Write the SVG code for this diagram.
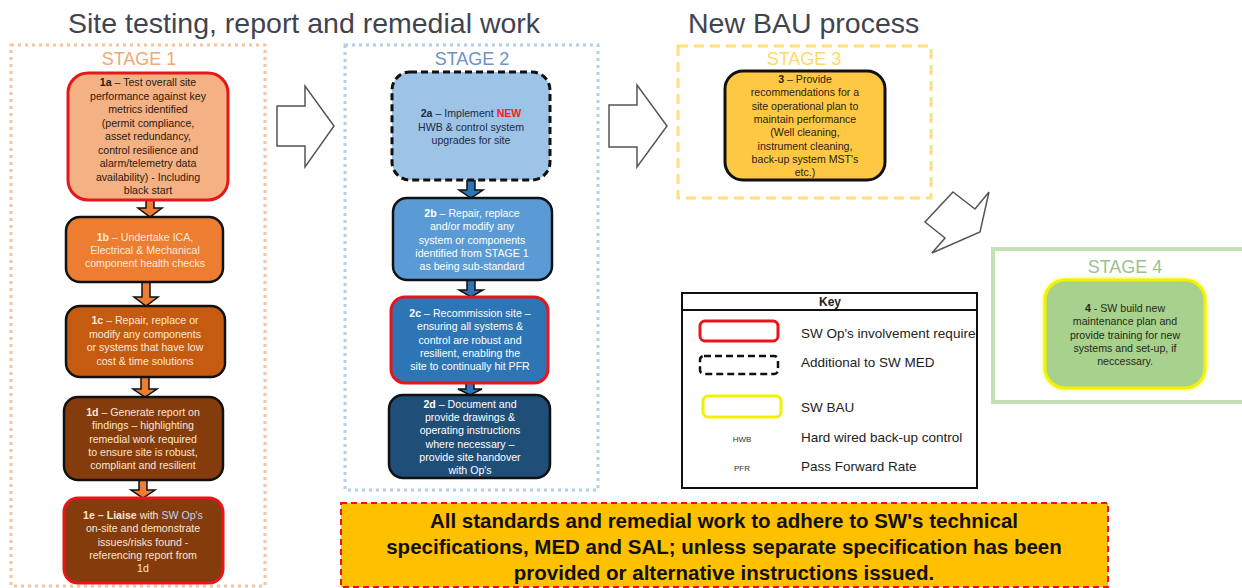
<svg xmlns="http://www.w3.org/2000/svg" width="1242" height="588" viewBox="0 0 1242 588">
<defs>
<style>
.title{font-family:"Liberation Sans",Arial,sans-serif;font-size:28.5px;fill:#3f4450}
.stg{font-family:"Liberation Sans",Arial,sans-serif;font-size:18px;text-anchor:middle}
.t{font-family:"Liberation Sans",Arial,sans-serif;font-size:10.6px;text-anchor:middle}
.b{font-weight:bold}
.key{font-family:"Liberation Sans",Arial,sans-serif;font-size:13.5px;fill:#222}
.ksm{font-family:"Liberation Sans",Arial,sans-serif;font-size:8px;fill:#333;text-anchor:middle}
.big{fill:#fff;stroke:#555;stroke-width:1.5}
.oa{fill:#ed7d31;stroke:#111;stroke-width:1.5}
.ba{fill:#2e75b6;stroke:#111;stroke-width:1.5}
.ban{font-family:"Liberation Sans",Arial,sans-serif;font-size:20.5px;font-weight:bold;text-anchor:middle;fill:#111}
</style>
<clipPath id="keyclip"><rect x="682" y="293" width="294" height="195"/></clipPath>
</defs>
<rect width="1242" height="588" fill="#fff"/>

<text class="title" x="68" y="33">Site testing, report and remedial work</text>
<text class="title" x="688" y="33">New BAU process</text>

<!-- stage containers -->
<g id="stage1">
<rect x="11" y="45" width="254" height="541" fill="none" stroke="#f4c4a0" stroke-width="3" stroke-dasharray="3 4"/>
<text class="stg" x="139" y="65" fill="#efa878">STAGE 1</text>
</g>
<g id="stage2">
<rect x="345" y="45" width="253" height="445" fill="none" stroke="#b4cfe8" stroke-width="3" stroke-dasharray="3 4"/>
<text class="stg" x="472" y="65" fill="#6c93c4">STAGE 2</text>
</g>
<g id="stage3">
<rect x="678" y="46" width="253" height="152" fill="none" stroke="#ffdf80" stroke-width="3" stroke-dasharray="10 6"/>
<text class="stg" x="804" y="65" fill="#ffd966">STAGE 3</text>
</g>
<g id="stage4">
<rect x="993" y="249" width="252" height="153" fill="none" stroke="#c5e0b4" stroke-width="4"/>
<text class="stg" x="1125" y="273" fill="#9cbf8e">STAGE 4</text>
</g>

<!-- connectors -->
<g id="connectors">
<polygon class="big" points="277,106 305,106 305,86 334,126 305,167 305,146 277,146"/>
<polygon class="big" points="609,105 637,105 637,85 667,126 637,167 637,147 609,147"/>
<polygon class="big" points="953,192 975,209 989,192 980,232 932,253 945,238 925,222"/>
<polygon class="oa" points="146,198 154,198 154,208 162,208 150,217 138,208 146,208"/>
<polygon class="oa" points="142,282 150,282 150,297 158,297 146,306 134,297 142,297"/>
<polygon class="oa" points="141,377 149,377 149,389 157,389 145,397 133,389 141,389"/>
<polygon class="oa" points="139,480 147,480 147,490 155,490 143,498 131,490 139,490"/>
<polygon class="ba" points="467,180 475,180 475,190 483,190 471,198 459,190 467,190"/>
<polygon class="ba" points="467,280 475,280 475,290 483,290 471,297 459,290 467,290"/>
<polygon class="ba" points="466,383 474,383 474,389 482,389 470,395 458,389 466,389"/>
</g>

<!-- stage 1 nodes -->
<g id="n1a">
<rect x="68" y="73" width="160" height="127" rx="20" fill="#f4b183" stroke="#e8161b" stroke-width="3"/>
<g class="t" fill="#2a1a10">
<text x="148" y="86"><tspan class="b">1a</tspan> – Test overall site</text>
<text x="148" y="99.5">performance against key</text>
<text x="148" y="113">metrics identified</text>
<text x="148" y="126.5">(permit compliance,</text>
<text x="148" y="140">asset redundancy,</text>
<text x="148" y="153.5">control resilience and</text>
<text x="148" y="167">alarm/telemetry data</text>
<text x="148" y="180.5">availability) - Including</text>
<text x="148" y="194">black start</text>
</g>
</g>
<g id="n1b">
<rect x="66" y="217" width="157" height="65" rx="14" fill="#ed7d31" stroke="#111" stroke-width="2.5"/>
<g class="t" fill="#fde9d9">
<text x="145" y="241"><tspan class="b">1b</tspan> – Undertake ICA,</text>
<text x="145" y="254">Electrical &amp; Mechanical</text>
<text x="145" y="267">component health checks</text>
</g>
</g>
<g id="n1c">
<rect x="66" y="306" width="159" height="71" rx="14" fill="#c55a11" stroke="#111" stroke-width="2.5"/>
<g class="t" fill="#fde9d9">
<text x="145" y="324"><tspan class="b">1c</tspan> – Repair, replace or</text>
<text x="145" y="337.5">modify any components</text>
<text x="145" y="351">or systems that have low</text>
<text x="145" y="364.5">cost &amp; time solutions</text>
</g>
</g>
<g id="n1d">
<rect x="64" y="397" width="159" height="83" rx="14" fill="#843c0c" stroke="#111" stroke-width="2.5"/>
<g class="t" fill="#fbe5d6">
<text x="143" y="416"><tspan class="b">1d</tspan> – Generate report on</text>
<text x="143" y="429.3">findings – highlighting</text>
<text x="143" y="442.6">remedial work required</text>
<text x="143" y="455.9">to ensure site is robust,</text>
<text x="143" y="469.2">compliant and resilient</text>
</g>
</g>
<g id="n1e">
<rect x="64" y="498" width="159" height="85" rx="14" fill="#843c0c" stroke="#e8161b" stroke-width="3"/>
<g class="t" fill="#fbe5d6">
<text x="143" y="519"><tspan class="b">1e – Liaise</tspan> with <tspan fill="#bdd7ee">SW Op's</tspan></text>
<text x="143" y="532.3">on-site and demonstrate</text>
<text x="143" y="545.6">issues/risks found -</text>
<text x="143" y="558.9">referencing report from</text>
<text x="143" y="572.2">1d</text>
</g>
</g>

<!-- stage 2 nodes -->
<g id="n2a">
<rect x="392" y="72" width="158" height="108" rx="18" fill="#9dc3e6" stroke="#111" stroke-width="3" stroke-dasharray="7 4"/>
<g class="t" fill="#1f2a44">
<text x="471" y="117"><tspan class="b">2a</tspan> – Implement <tspan class="b" fill="#ff1a1a">NEW</tspan></text>
<text x="471" y="131">HWB &amp; control system</text>
<text x="471" y="144">upgrades for site</text>
</g>
</g>
<g id="n2b">
<rect x="393" y="198" width="159" height="82" rx="14" fill="#5b9bd5" stroke="#111" stroke-width="2.5"/>
<g class="t" fill="#fff">
<text x="472" y="217"><tspan class="b">2b</tspan> – Repair, replace</text>
<text x="472" y="230.3">and/or modify any</text>
<text x="472" y="243.6">system or components</text>
<text x="472" y="256.9">identified from STAGE 1</text>
<text x="472" y="270.2">as being sub-standard</text>
</g>
</g>
<g id="n2c">
<rect x="391" y="297" width="157" height="86" rx="14" fill="#2e75b6" stroke="#e8161b" stroke-width="3"/>
<g class="t" fill="#fff">
<text x="470" y="317"><tspan class="b">2c</tspan> – Recommission site –</text>
<text x="470" y="330.3">ensuring all systems &amp;</text>
<text x="470" y="343.6">control are robust and</text>
<text x="470" y="356.9">resilient, enabling the</text>
<text x="470" y="370.2">site to continually hit PFR</text>
</g>
</g>
<g id="n2d">
<rect x="389" y="395" width="161" height="83" rx="14" fill="#1f4e79" stroke="#111" stroke-width="2.5"/>
<g class="t" fill="#fff">
<text x="470" y="408"><tspan class="b">2d</tspan> – Document and</text>
<text x="470" y="421.2">provide drawings &amp;</text>
<text x="470" y="434.4">operating instructions</text>
<text x="470" y="447.6">where necessary –</text>
<text x="470" y="460.8">provide site handover</text>
<text x="470" y="474">with Op's</text>
</g>
</g>

<!-- stage 3 node -->
<g id="n3">
<rect x="725" y="71" width="160" height="109" rx="18" fill="#ffc844" stroke="#111" stroke-width="3"/>
<g class="t" fill="#2a2210">
<text x="805" y="83"><tspan class="b">3</tspan> – Provide</text>
<text x="805" y="96.3">recommendations for a</text>
<text x="805" y="109.6">site operational plan to</text>
<text x="805" y="122.9">maintain performance</text>
<text x="805" y="136.2">(Well cleaning,</text>
<text x="805" y="149.5">instrument cleaning,</text>
<text x="805" y="162.8">back-up system MST's</text>
<text x="805" y="176.1">etc.)</text>
</g>
</g>

<!-- stage 4 node -->
<g id="n4">
<rect x="1045" y="280" width="160" height="108" rx="20" fill="none" stroke="#f4ff80" stroke-width="7" opacity="0.6"/>
<rect x="1045" y="280" width="160" height="108" rx="20" fill="#a9d18e" stroke="#f2f200" stroke-width="3"/>
<g class="t" fill="#1f2a18">
<text x="1125" y="312"><tspan class="b">4</tspan> - SW build new</text>
<text x="1125" y="325.3">maintenance plan and</text>
<text x="1125" y="338.6">provide training for new</text>
<text x="1125" y="351.9">systems and set-up, if</text>
<text x="1125" y="365.2">neccessary.</text>
</g>
</g>

<!-- key -->
<g id="key">
<rect x="682" y="293" width="295" height="195" fill="#fff" stroke="#111" stroke-width="2"/>
<line x1="682" y1="310" x2="977" y2="310" stroke="#111" stroke-width="2"/>
<text class="key b" x="830" y="306" text-anchor="middle" style="font-size:12px">Key</text>
<rect x="700" y="321" width="78" height="20" rx="5" fill="none" stroke="#e8161b" stroke-width="3"/>
<rect x="700" y="356" width="78" height="18" rx="4" fill="none" stroke="#111" stroke-width="2.5" stroke-dasharray="7 4"/>
<rect x="703" y="396" width="78" height="21" rx="5" fill="none" stroke="#f2f200" stroke-width="3"/>
<text class="ksm" x="742" y="442">HWB</text>
<text class="ksm" x="742" y="471">PFR</text>
<g clip-path="url(#keyclip)">
<text class="key" x="801" y="338">SW Op's involvement required</text>
</g>
<text class="key" x="801" y="367">Additional to SW MED</text>
<text class="key" x="801" y="412">SW BAU</text>
<text class="key" x="801" y="442">Hard wired back-up control</text>
<text class="key" x="801" y="471">Pass Forward Rate</text>
</g>

<!-- banner -->
<g id="banner">
<rect x="341" y="503" width="767" height="84" fill="#ffc000" stroke="#ee1111" stroke-width="2" stroke-dasharray="6 4"/>
<text class="ban" x="724" y="528">All standards and remedial work to adhere to SW's technical</text>
<text class="ban" x="724" y="554">specifications, MED and SAL; unless separate specification has been</text>
<text class="ban" x="724" y="580">provided or alternative instructions issued.</text>
</g>
</svg>
